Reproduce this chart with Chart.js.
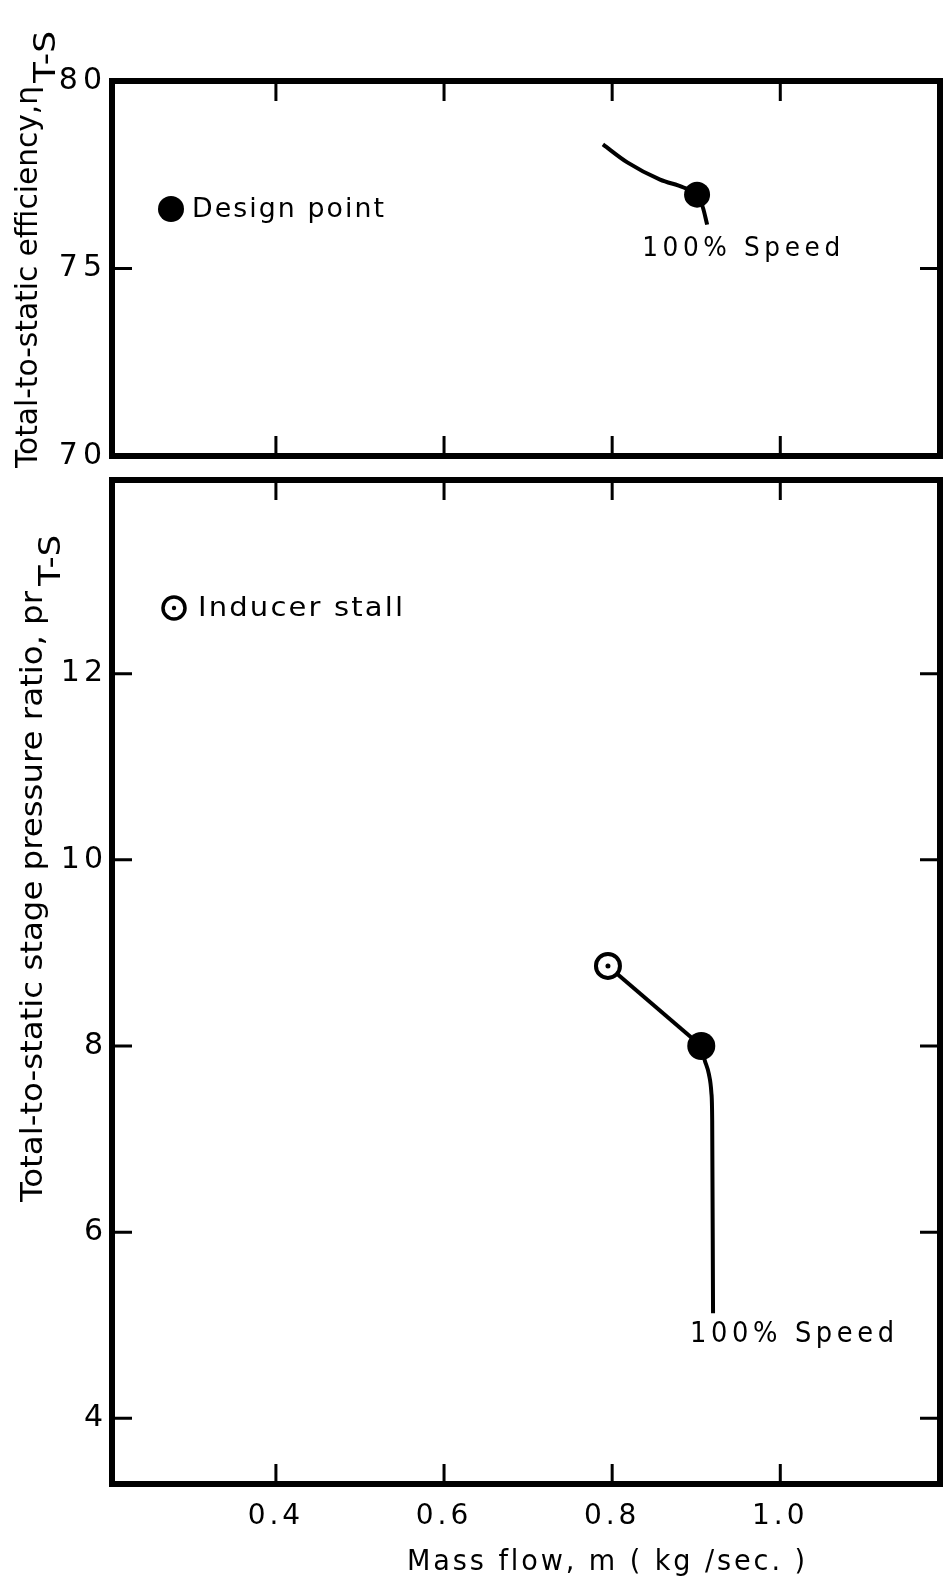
<!DOCTYPE html>
<html>
<head>
<meta charset="utf-8">
<title>Mass flow performance</title>
<script src="https://cdn.jsdelivr.net/npm/chart.js@4.4.1/dist/chart.umd.min.js"></script>
<style>
  html, body { margin: 0; padding: 0; background: #fff; }
  #wrap { position: relative; width: 943px; height: 1583px; overflow: hidden; }
  #topChart { position: absolute; left: 0; top: 0; }
  #bottomChart { position: absolute; left: 0; top: 472px; }
</style>
</head>
<body>
<div id="wrap">
  <canvas id="topChart" width="943" height="472"></canvas>
  <canvas id="bottomChart" width="943" height="1111"></canvas>
</div>
<script>
// ---- axis ticks ----
const flowTicks = [0.4, 0.6, 0.8, 1.0];
const effTicks = [70, 75, 80];
const prTicks = [4, 6, 8, 10, 12];

// ---- 100% speed line, total-to-static efficiency ----
const effFlow = [0.789, 0.818, 0.857, 0.885, 0.901, 0.908, 0.913];
const effVal  = [78.31, 77.83, 77.37, 77.16, 76.97, 76.62, 76.17];
const effDesignFlow = [0.901];
const effDesignVal  = [76.97];

// ---- 100% speed line, total-to-static pressure ratio ----
const stallLineFlow = [0.795, 0.906];
const stallLineVal  = [8.86, 8.0];
const speedFlow = [0.906, 0.910, 0.915, 0.918, 0.919, 0.920];
const speedVal  = [8.0, 7.85, 7.70, 7.50, 7.20, 5.13];
const stallFlow = [0.795];
const stallVal  = [8.86];
const prDesignFlow = [0.906];
const prDesignVal  = [8.0];

const FONT = '"DejaVu Sans", "Liberation Sans", sans-serif';
Chart.defaults.font.family = FONT;
Chart.defaults.color = '#000';

const pts = (xs, ys) => xs.map((x, i) => ({ x, y: ys[i] }));

// Draws a string stretched/condensed to a given length (optionally rotated).
function fitText(ctx, str, x, y, size, width, opts = {}) {
  ctx.save();
  ctx.translate(x, y);
  if (opts.rot) ctx.rotate(opts.rot);
  ctx.font = size + 'px ' + (opts.family || FONT);
  const sp = opts.spacing || 0;
  ctx.letterSpacing = sp + 'px';
  const w = ctx.measureText(str).width - sp;
  ctx.scale(width / w, 1);
  ctx.fillStyle = '#000';
  ctx.textAlign = 'left';
  ctx.textBaseline = 'middle';
  ctx.fillText(str, 0, 0);
  ctx.restore();
}

// Frame with inward tick marks on all four sides, plus free text.
function framePlugin(xTicks, yTicks, labelSpacing, drawText) {
  const L = 20;
  return {
    id: 'frame',
    beforeDraw(chart) { chart.ctx.letterSpacing = labelSpacing + 'px'; },
    beforeDatasetsDraw(chart) {
      const { ctx, chartArea: a, scales: { x, y } } = chart;
      ctx.letterSpacing = '0px';
      ctx.save();
      ctx.strokeStyle = '#000';
      ctx.lineWidth = 6;
      ctx.lineJoin = 'miter';
      ctx.strokeRect(a.left, a.top, a.right - a.left, a.bottom - a.top);
      ctx.lineWidth = 3;
      ctx.beginPath();
      for (const v of xTicks) {
        const px = x.getPixelForValue(v);
        ctx.moveTo(px, a.top); ctx.lineTo(px, a.top + L);
        ctx.moveTo(px, a.bottom); ctx.lineTo(px, a.bottom - L);
      }
      for (const v of yTicks) {
        const py = y.getPixelForValue(v);
        ctx.moveTo(a.left, py); ctx.lineTo(a.left + L, py);
        ctx.moveTo(a.right, py); ctx.lineTo(a.right - L, py);
      }
      ctx.stroke();
      ctx.restore();
    },
    afterDraw(chart) { drawText(chart); }
  };
}

function noEdgePadding(s) {
  s.paddingTop = 0; s.paddingBottom = 0; s.paddingLeft = 0; s.paddingRight = 0;
}

function baseScales(yMin, yMax, yTicks, xShown, xHeight) {
  return {
    x: {
      type: 'linear', min: 0.205, max: 1.19,
      display: xShown,
      grid: { display: false, drawTicks: false }, border: { display: false },
      ticks: { font: { size: 28 }, padding: 16, maxRotation: 0, autoSkip: false,
               callback: v => v.toFixed(1) },
      afterBuildTicks: s => { s.ticks = flowTicks.map(v => ({ value: v })); },
      afterFit: s => { noEdgePadding(s); s.height = xShown ? xHeight : 0; }
    },
    y: {
      type: 'linear', min: yMin, max: yMax,
      grid: { display: false, drawTicks: false }, border: { display: false },
      ticks: { font: { size: 30 }, padding: 5, autoSkip: false,
               callback: v => String(v) },
      afterBuildTicks: s => { s.ticks = yTicks.map(v => ({ value: v })); },
      afterFit: s => { noEdgePadding(s); s.width = 112; }
    }
  };
}

const common = {
  responsive: false,
  animation: false,
  events: [],
  plugins: { legend: { display: false }, tooltip: { enabled: false } }
};

// ---------- efficiency panel ----------
new Chart(document.getElementById('topChart'), {
  type: 'scatter',
  data: {
    datasets: [
      { data: pts(effDesignFlow, effDesignVal), pointRadius: 13, pointBorderWidth: 0,
        backgroundColor: '#000', borderColor: '#000' },
      { data: pts(effFlow, effVal), showLine: true, borderColor: '#000', borderWidth: 4,
        pointRadius: 0, cubicInterpolationMode: 'monotone' }
    ]
  },
  options: {
    ...common,
    layout: { autoPadding: false, padding: { top: 81, bottom: 16, left: 0, right: 3 } },
    scales: baseScales(70, 80, effTicks, false, 0)
  },
  plugins: [framePlugin(flowTicks, effTicks, 5, chart => {
    const { ctx, scales: { x, y } } = chart;
    // key
    ctx.save();
    ctx.fillStyle = '#000';
    ctx.beginPath(); ctx.arc(171, 209, 13, 0, Math.PI * 2); ctx.fill();
    ctx.restore();
    fitText(ctx, 'Design point', 192, 210, 26, 192, { spacing: 2 });
    // curve label
    const n = effFlow.length - 1;
    const lx = x.getPixelForValue(effFlow[n]), ly = y.getPixelForValue(effVal[n]);
    fitText(ctx, '100% Speed', lx - 65, ly + 24, 27, 198, { spacing: 5 });
    // axis title
    fitText(ctx, 'Total-to-static efficiency,\u03b7', 29, 468, 30, 382, { rot: -Math.PI / 2 });
    fitText(ctx, 'T-S', 47, 83, 30, 52, { rot: -Math.PI / 2 });
  })]
});

// ---------- pressure ratio panel ----------
new Chart(document.getElementById('bottomChart'), {
  type: 'scatter',
  data: {
    datasets: [
      { data: pts(stallFlow, stallVal), pointRadius: 2.5, pointBorderWidth: 0,
        backgroundColor: '#000', borderColor: '#000' },
      { data: pts(stallFlow, stallVal), pointRadius: 12, pointBorderWidth: 4,
        backgroundColor: '#fff', borderColor: '#000' },
      { data: pts(prDesignFlow, prDesignVal), pointRadius: 14, pointBorderWidth: 0,
        backgroundColor: '#000', borderColor: '#000' },
      { data: pts(stallLineFlow, stallLineVal), showLine: true, borderColor: '#000',
        borderWidth: 4, pointRadius: 0, tension: 0 },
      { data: pts(speedFlow, speedVal), showLine: true, borderColor: '#000',
        borderWidth: 4, pointRadius: 0, cubicInterpolationMode: 'monotone' }
    ]
  },
  options: {
    ...common,
    layout: { autoPadding: false, padding: { top: 8, bottom: 0, left: 0, right: 3 } },
    scales: baseScales(3.295, 14.08, prTicks, true, 99)
  },
  plugins: [framePlugin(flowTicks, prTicks, 4, chart => {
    const { ctx, scales: { x, y } } = chart;
    // key
    ctx.save();
    ctx.strokeStyle = '#000'; ctx.fillStyle = '#000'; ctx.lineWidth = 3.5;
    ctx.beginPath(); ctx.arc(174, 136, 11, 0, Math.PI * 2); ctx.stroke();
    ctx.beginPath(); ctx.arc(174, 136, 2.2, 0, Math.PI * 2); ctx.fill();
    ctx.restore();
    fitText(ctx, 'Inducer stall', 198, 137, 27, 205, { spacing: 2 });
    // curve label
    const n = speedFlow.length - 1;
    const lx = x.getPixelForValue(speedFlow[n]), ly = y.getPixelForValue(speedVal[n]);
    fitText(ctx, '100% Speed', lx - 23, ly + 22, 28, 204, { spacing: 5 });
    // axis titles
    fitText(ctx, 'Mass flow, m ( kg /sec. )', 407, 1091, 28, 398, { spacing: 3 });
    fitText(ctx, 'Total-to-static stage pressure ratio, pr', 34, 730, 30, 611, { rot: -Math.PI / 2 });
    fitText(ctx, 'T-S', 52, 114, 30, 51, { rot: -Math.PI / 2 });
  })]
});
</script>
</body>
</html>
